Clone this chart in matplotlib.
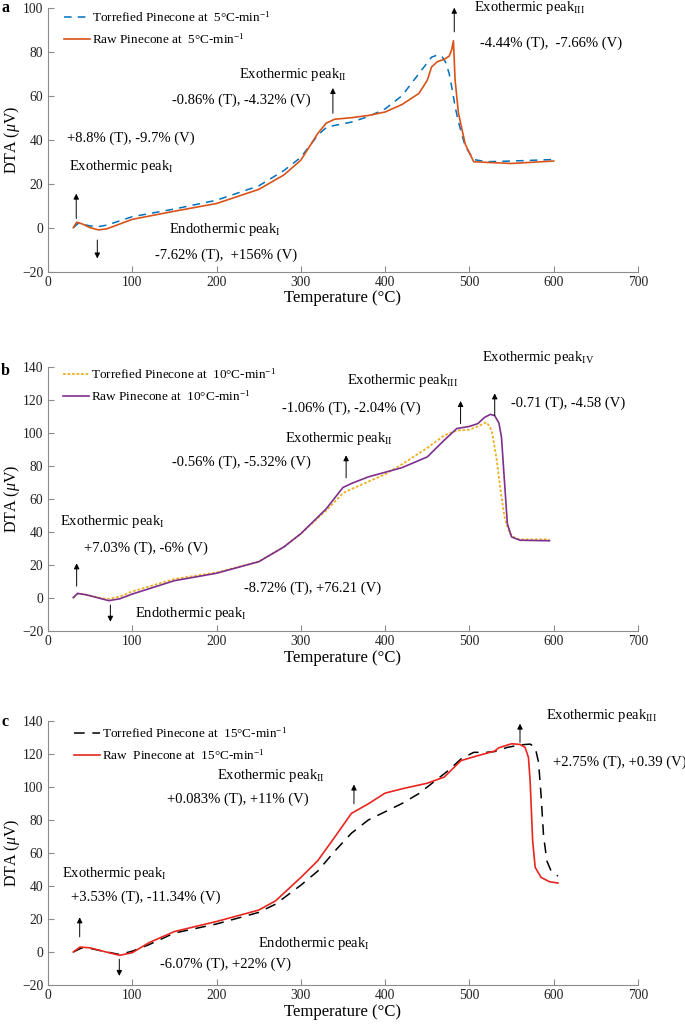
import numpy as np
import matplotlib
matplotlib.use("Agg")
import matplotlib.pyplot as plt

plt.rcParams['font.family'] = ['Liberation Serif', 'DejaVu Serif']
plt.rcParams['mathtext.fontset'] = 'custom'
plt.rcParams['mathtext.rm'] = 'Liberation Serif'
plt.rcParams['mathtext.it'] = 'Liberation Serif:italic'
plt.rcParams['font.size'] = 10.5

# ---- panel a : 5 C/min ----
a_T_raw = [30, 34, 40, 50, 60, 70, 100, 150, 200, 250, 280, 300, 320, 330, 340, 360, 380, 400,
           420, 440, 450, 455, 462, 470, 476, 479, 481, 483, 487, 495, 505, 520, 550, 600]
a_raw = [0, 2.5, 1.8, 0, -1, -0.5, 3.8, 7.5, 11, 17.4, 24, 30.7, 42.8, 47.5, 49.3, 50, 51, 52.6,
         56, 61, 67, 73, 75.5, 76.5, 78, 81, 85, 67, 52, 38, 30, 29.7, 29.2, 30.3]
a_T_tor = [30, 36, 42, 50, 60, 70, 100, 150, 200, 250, 280, 300, 320, 330, 340, 360, 380, 400,
           420, 440, 450, 455, 462, 468, 472, 476, 480, 483, 487, 495, 505, 520, 550, 600]
a_tor = [0, 2, 1.5, 0.8, 0.5, 1.2, 5, 8.5, 12.5, 19, 26, 32, 42, 45.5, 46.5, 48, 50.5, 54,
         60, 70, 75, 77.5, 78.5, 77.5, 75, 70, 62, 55, 48, 37, 31, 30, 30.3, 31]

# ---- panel b : 10 C/min ----
b_T_raw = [30, 35, 45, 60, 72, 85, 100, 150, 200, 250, 280, 300, 330, 350, 360, 380, 400, 420,
           450, 470, 485, 500, 510, 518, 525, 530, 535, 538, 541, 545, 550, 560, 595]
b_raw = [0.2, 2.8, 2, 0, -1.6, -0.5, 2.4, 10.5, 15, 22, 31, 39, 54, 67, 69.4, 73.4, 76.2, 79,
         85.5, 95.6, 102.7, 104, 105.7, 109.5, 111.3, 110.5, 106, 97.6, 75, 45, 37, 35, 34.7]
b_T_tor = [30, 35, 45, 60, 70, 85, 100, 150, 200, 250, 280, 300, 330, 350, 360, 380, 400, 420,
           450, 470, 485, 500, 510, 520, 524, 527, 532, 537, 542, 548, 555, 560, 595]
b_tor = [0, 2.5, 2, 0.3, -0.6, 0.8, 4, 11.5, 15.5, 22, 31, 39, 53, 63.5, 66, 70.5, 75, 81,
         91, 98.5, 101.5, 102, 104, 106.5, 104, 100, 85, 65, 48, 39, 36, 35.5, 35.5]

# ---- panel c : 15 C/min ----
c_T_raw = [30, 38, 50, 65, 85, 100, 120, 150, 200, 250, 270, 300, 320, 340, 360, 380, 400, 420,
           450, 470, 490, 510, 530, 535, 550, 560, 566, 570, 572, 575, 578, 585, 595, 605]
c_raw = [0, 3, 2.5, 0.5, -2, -0.4, 5.7, 12.4, 18.5, 25.4, 31, 45.2, 55.3, 69.5, 84, 89.8, 96.3, 98.9,
         102.3, 106, 116, 119, 121.8, 123.8, 126.2, 125.8, 124, 118, 104, 67.5, 51.3, 45.2, 42.6, 41.8]
c_T_tor = [30, 40, 50, 65, 85, 100, 120, 150, 200, 250, 270, 300, 320, 340, 360, 370, 380, 400,
           420, 440, 460, 475, 490, 505, 520, 530, 545, 560, 572, 578, 582, 585, 588, 592, 597, 605]
c_tor = [0, 2.5, 2.2, 0.5, -1.5, 0.5, 4.5, 11.5, 17, 24, 29, 40.5, 49, 61, 72, 76, 80, 85,
         90, 96, 104, 110, 117, 121, 121, 121.5, 124, 125.5, 126, 124, 115, 95, 70, 55, 49, 46]

fig = plt.figure(figsize=(6.85, 10.28), dpi=100)
W, H = 685.0, 1028.0


def make_axes(top, bottom):
    ax = fig.add_axes([48 / W, 1 - bottom / H, (638 - 48) / W, (bottom - top) / H])
    for s in ['top', 'right']:
        ax.spines[s].set_visible(False)
    for s in ['left', 'bottom']:
        ax.spines[s].set_color('#8c8c8c')
        ax.spines[s].set_linewidth(0.8)
    ax.tick_params(direction='in', length=4, width=0.8, color='#8c8c8c', labelsize=9.8,
                   labelcolor='#222222')
    ax.tick_params(axis='y', pad=3.5)
    ax.tick_params(axis='x', pad=3)
    ax.set_xlim(0, 700)
    ax.set_xticks(np.arange(0, 701, 100))
    ax.set_xlabel('Temperature (°C)', fontsize=12, labelpad=1)
    ax.set_ylabel(r'DTA ($\mu$V)', fontsize=11.5)
    ax.yaxis.set_label_coords(-0.044, 0.5)
    return ax


def arrow(ax, x, y0, y1):
    ax.annotate('', xy=(x, y1), xytext=(x, y0), annotation_clip=False,
                arrowprops=dict(arrowstyle='-|>', color='k', lw=0.7, mutation_scale=8,
                                shrinkA=0, shrinkB=0))


def label(ax, x, y, s):
    ax.text(x, y, s, fontsize=10.5, va='center', ha='left', clip_on=False)


leg_kw = dict(loc='upper left', frameon=False, fontsize=9.5, handlelength=2.0,
              handletextpad=0.15, labelspacing=0.55, borderaxespad=0)

# a
ax = make_axes(7.7, 271.7)
ax.plot(a_T_tor, a_tor, color='#0072BD', ls=(0, (5, 4)), lw=1.1,
        label='Torrefied Pinecone at  5°C-min$^{-1}$')
ax.plot(a_T_raw, a_raw, color='#D95319', lw=1.2, label='Raw Pinecone at  5°C-min$^{-1}$')
ax.set_ylim(-20, 100)
ax.set_yticks(np.arange(-20, 101, 20))
ax.legend(bbox_to_anchor=(0.018, 1.012), **leg_kw)
label(ax, 505, 100, r'Exothermic peak$_{\mathrm{III}}$')
label(ax, 513, 84, '-4.44% (T),  -7.66% (V)')
arrow(ax, 482, 89, 100)
label(ax, 227, 69.5, r'Exothermic peak$_{\mathrm{II}}$')
label(ax, 147, 58, '-0.86% (T), -4.32% (V)')
arrow(ax, 338, 52, 63.5)
label(ax, 22, 40.8, '+8.8% (T), -9.7% (V)')
label(ax, 25, 27.7, r'Exothermic peak$_{\mathrm{I}}$')
arrow(ax, 33.5, 4.2, 15.5)
arrow(ax, 58.5, -5.6, -14)
label(ax, 143.5, -1, r'Endothermic peak$_{\mathrm{I}}$')
label(ax, 127.5, -12.4, '-7.62% (T),  +156% (V)')
fig.text(1 / W, 1 - 8 / H, 'a', fontsize=11.5, fontweight='bold', va='center')

# b
ax = make_axes(367, 631)
ax.plot(b_T_tor, b_tor, color='#EDB120', ls=(0, (1.5, 1)), lw=1.3,
        label='Torrefied Pinecone at  10°C-min$^{-1}$')
ax.plot(b_T_raw, b_raw, color='#7E2F8E', lw=1.2, label='Raw Pinecone at  10°C-min$^{-1}$')
ax.set_ylim(-20, 140)
ax.set_yticks(np.arange(-20, 141, 20))
ax.legend(bbox_to_anchor=(0.016, 1.02), **leg_kw)
label(ax, 514.5, 145.5, r'Exothermic peak$_{\mathrm{IV}}$')
label(ax, 549.5, 117.8, '-0.71 (T), -4.58 (V)')
arrow(ax, 530, 110.7, 124)
label(ax, 355, 132, r'Exothermic peak$_{\mathrm{III}}$')
label(ax, 278, 114.8, '-1.06% (T), -2.04% (V)')
arrow(ax, 489.5, 105.7, 119.4)
label(ax, 281.5, 96.6, r'Exothermic peak$_{\mathrm{II}}$')
label(ax, 147, 82.5, '-0.56% (T), -5.32% (V)')
arrow(ax, 353.7, 72.8, 86.5)
label(ax, 14, 46.2, r'Exothermic peak$_{\mathrm{I}}$')
label(ax, 43, 30, '+7.03% (T), -6% (V)')
arrow(ax, 34, 7.2, 21)
arrow(ax, 74, -4.3, -14.4)
label(ax, 103, -9.3, r'Endothermic peak$_{\mathrm{I}}$')
label(ax, 232.5, 5.8, '-8.72% (T), +76.21 (V)')
fig.text(1 / W, 1 - 371 / H, 'b', fontsize=11.5, fontweight='bold', va='center')

# c
ax = make_axes(721, 985)
ax.plot(c_T_tor, c_tor, color='k', ls=(0, (7, 5)), lw=1.1,
        label='Torrefied Pinecone at  15°C-min$^{-1}$')
ax.plot(c_T_raw, c_raw, color='#E8261F', lw=1.2, label='Raw  Pinecone at  15°C-min$^{-1}$')
ax.set_ylim(-20, 140)
ax.set_yticks(np.arange(-20, 141, 20))
ax.legend(bbox_to_anchor=(0.035, 1.0), **leg_kw)
label(ax, 591, 143.4, r'Exothermic peak$_{\mathrm{III}}$')
label(ax, 599, 115, '+2.75% (T), +0.39 (V)')
arrow(ax, 560, 127, 138.4)
label(ax, 201, 107, r'Exothermic peak$_{\mathrm{II}}$')
label(ax, 141, 92.8, '+0.083% (T), +11% (V)')
arrow(ax, 363, 89.8, 101.5)
label(ax, 16.7, 47.6, r'Exothermic peak$_{\mathrm{I}}$')
label(ax, 27, 33, '+3.53% (T), -11.34% (V)')
arrow(ax, 37.6, 9.2, 21)
arrow(ax, 84.6, -4.4, -14.5)
label(ax, 249, 5.1, r'Endothermic peak$_{\mathrm{I}}$')
label(ax, 132.7, -7.4, '-6.07% (T), +22% (V)')
fig.text(1 / W, 1 - 722 / H, 'c', fontsize=11.5, fontweight='bold', va='center')

fig.savefig('out.png', dpi=100)
